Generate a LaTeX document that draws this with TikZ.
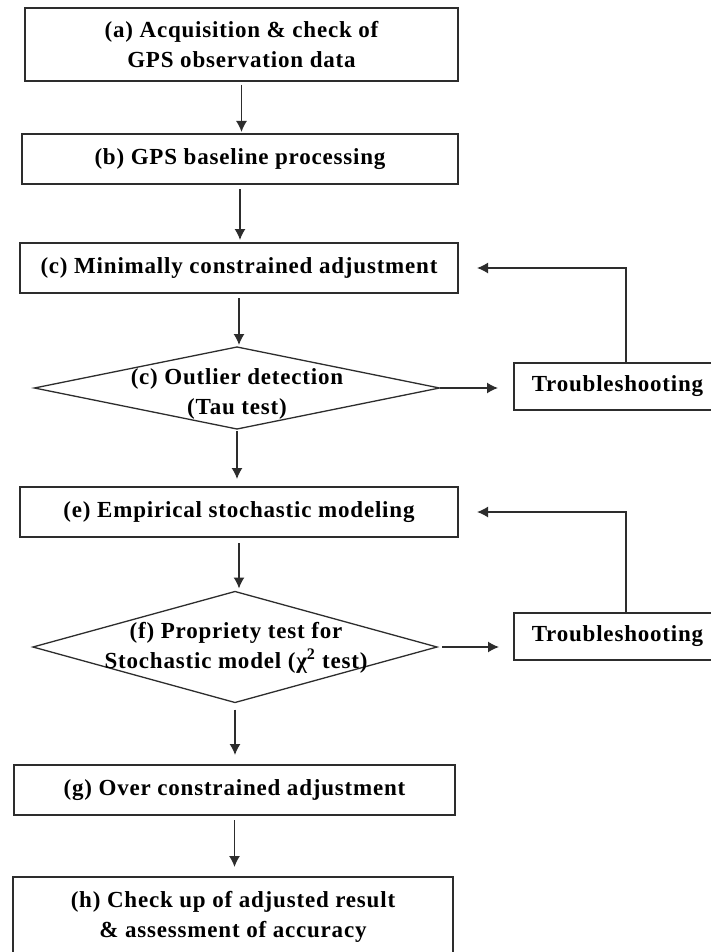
\documentclass[tikz,border=0pt]{standalone}
\usepackage{fontspec}
\setmainfont{Liberation Serif}[LetterSpace=3.5]
\usetikzlibrary{arrows.meta,shapes.geometric,calc}
\definecolor{lncol}{RGB}{45,45,45}
\begin{document}
\begin{tikzpicture}[x=1pt,y=-1pt,
  every node/.style={inner sep=0pt, outer sep=0pt},
  txt/.style={font=\bfseries\fontsize{23}{30}\selectfont, align=center, text=black},
  stepbox/.style={draw=lncol, line width=1.4pt},
  decision/.style={draw=lncol, line width=1.3pt, diamond},
  arr/.style={draw=lncol, line width=1.5pt, -{Latex[length=11pt,width=11pt]}}]
\clip (0,0) rectangle (711,952);
\fill[white] (0,0) rectangle (711,952);
% boxes
\node[stepbox, txt, minimum width=433pt, minimum height=73pt] (a) at (241.5,44.5) {(a) Acquisition \& check of\\GPS observation data};
\node[stepbox, txt, minimum width=436pt, minimum height=50pt] (b) at (240,159) {(b) GPS baseline processing};
\node[stepbox, txt, minimum width=438pt, minimum height=50pt] (c) at (239,268) {(c) Minimally constrained adjustment};
\node[decision, minimum width=405pt, minimum height=82pt] (d) at (237,388) {};
\node[txt] (dt) at (237,394) {(c) Outlier detection\\(Tau test)};
\node[stepbox, txt, minimum width=207pt, minimum height=47pt] (t1) at (617.5,386.5) {Troubleshooting};
\node[stepbox, txt, minimum width=438pt, minimum height=50pt] (e) at (239,512) {(e) Empirical stochastic modeling};
\node[decision, minimum width=404pt, minimum height=111pt] (f) at (235,647) {};
\node[txt] (ft) at (236,648) {(f) Propriety test for\\Stochastic model (χ\textsuperscript{2} test)};
\node[stepbox, txt, minimum width=207pt, minimum height=47pt] (t2) at (617.5,636.5) {Troubleshooting};
\node[stepbox, txt, minimum width=441pt, minimum height=50pt] (g) at (234.5,790) {(g) Over constrained adjustment};
\node[stepbox, minimum width=440pt, minimum height=100pt] (h) at (233,927) {};
\node[txt] (ht) at (233,917) {(h) Check up of adjusted result\\\& assessment of accuracy};
% arrows
\draw[arr, shorten <=4pt, shorten >=2pt] (a.south) -- (a.south |- b.north);
\draw[arr, shorten <=5pt, shorten >=3pt] (b.south) -- (b.south |- c.north);
\draw[arr, shorten <=5pt, shorten >=2pt] (c.south) -- (c.south |- d.north);
\draw[arr, shorten <=2pt, shorten >=8pt] (d.south) -- (d.south |- e.north);
\draw[arr, shorten <=6pt, shorten >=3pt] (e.south) -- (e.south |- f.north);
\draw[arr, shorten <=7pt, shorten >=10pt] (f.south) -- (f.south |- g.north);
\draw[arr, shorten <=5pt, shorten >=10pt] (g.south) -- (g.south |- h.north);
\draw[arr, shorten >=16pt] (d.east) -- (d.east -| t1.west);
\draw[arr, shorten <=5pt, shorten >=15pt] (f.east) -- (f.east -| t2.west);
\draw[arr, shorten >=19pt] ([xshift=8.5pt]t1.north) |- (c.east);
\draw[arr, shorten >=19pt] ([xshift=8.5pt]t2.north) |- (e.east);
\end{tikzpicture}
\end{document}
